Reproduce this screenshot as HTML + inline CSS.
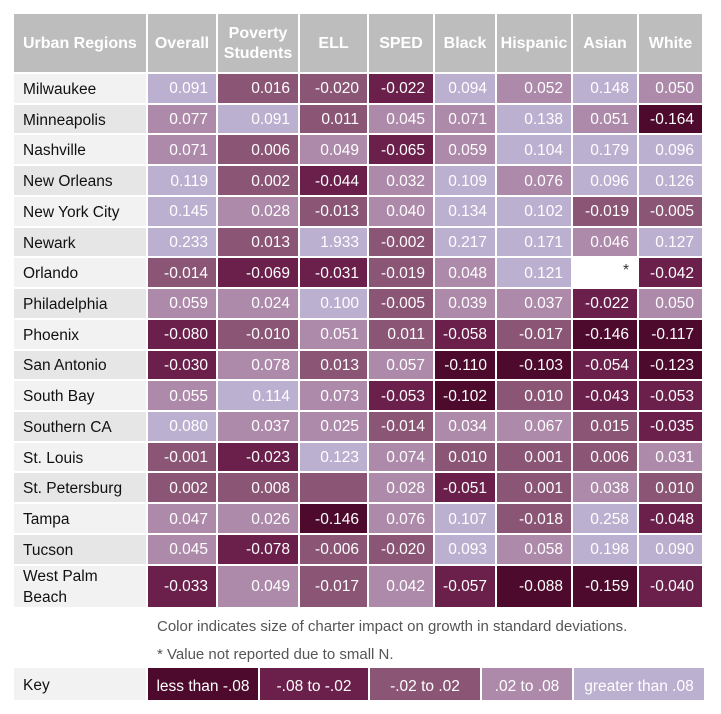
<!DOCTYPE html>
<html><head><meta charset="utf-8">
<style>
body{margin:0;background:#fff;width:721px;height:714px;position:relative;overflow:hidden;font-family:"Liberation Sans",sans-serif;}
.c{position:absolute;box-sizing:border-box;display:flex;align-items:center;font-size:15.5px;padding-top:2px;}
.h{background:#bdbdbd;color:#fff;font-weight:bold;justify-content:center;text-align:center;line-height:20px;font-size:16px;}
.v{color:#fff;justify-content:flex-end;padding-right:8px;}
.n{color:#111;padding-left:9px;line-height:21px;}
.note{position:absolute;left:157px;font-size:15px;color:#555;}
</style></head><body>
<div id="t"></div>
<div class="note" style="top:618px">Color indicates size of charter impact on growth in standard deviations.</div>
<div class="note" style="top:646px">* Value not reported due to small N.</div>
<script>
const columns=["Overall","Poverty Students","ELL","SPED","Black","Hispanic","Asian","White"];
const regions=["Milwaukee","Minneapolis","Nashville","New Orleans","New York City","Newark","Orlando","Philadelphia","Phoenix","San Antonio","South Bay","Southern CA","St. Louis","St. Petersburg","Tampa","Tucson","West Palm Beach"];
const values=[
[0.091,0.016,-0.020,-0.022,0.094,0.052,0.148,0.050],
[0.077,0.091,0.011,0.045,0.071,0.138,0.051,-0.164],
[0.071,0.006,0.049,-0.065,0.059,0.104,0.179,0.096],
[0.119,0.002,-0.044,0.032,0.109,0.076,0.096,0.126],
[0.145,0.028,-0.013,0.040,0.134,0.102,-0.019,-0.005],
[0.233,0.013,1.933,-0.002,0.217,0.171,0.046,0.127],
[-0.014,-0.069,-0.031,-0.019,0.048,0.121,"*",-0.042],
[0.059,0.024,0.100,-0.005,0.039,0.037,-0.022,0.050],
[-0.080,-0.010,0.051,0.011,-0.058,-0.017,-0.146,-0.117],
[-0.030,0.078,0.013,0.057,-0.110,-0.103,-0.054,-0.123],
[0.055,0.114,0.073,-0.053,-0.102,0.010,-0.043,-0.053],
[0.080,0.037,0.025,-0.014,0.034,0.067,0.015,-0.035],
[-0.001,-0.023,0.123,0.074,0.010,0.001,0.006,0.031],
[0.002,0.008,null,0.028,-0.051,0.001,0.038,0.010],
[0.047,0.026,-0.146,0.076,0.107,-0.018,0.258,-0.048],
[0.045,-0.078,-0.006,-0.020,0.093,0.058,0.198,0.090],
[-0.033,0.049,-0.017,0.042,-0.057,-0.088,-0.159,-0.040]];
const keyLabels=["less than -.08","-.08 to -.02","-.02 to .02",".02 to .08","greater than .08"];
const palette=["#4d0a2c","#6b1f4b","#8b5675","#ae8aaa","#bcb0d1"];
const colX=[14,148,218,300,369,435,497,573,639,704];
const t=document.getElementById('t');
function color(v){if(v===null)return palette[2];if(typeof v!=='number')return '#fff';
 if(v<-0.08)return palette[0];if(v<-0.02)return palette[1];if(v<0.02)return palette[2];if(v<0.08)return palette[3];return palette[4];}
function cell(x,y,w,h,cls,txt,bg){const d=document.createElement('div');d.className='c '+cls;
 d.style.left=x+'px';d.style.top=y+'px';d.style.width=w+'px';d.style.height=h+'px';if(bg)d.style.background=bg;d.textContent=txt;t.appendChild(d);return d;}
let d=cell(colX[0],14,colX[1]-2-colX[0],58,'h','Urban Regions');d.style.justifyContent='flex-start';d.style.paddingLeft='9px';


columns.forEach((c,j)=>{const e=cell(colX[j+1],14,colX[j+2]-2-colX[j+1],58,'h',c);
 
 });
const rowH=30.73;
regions.forEach((r,i)=>{const y=74+i*rowH;const h=(i===regions.length-1)?41:rowH-2;
 const n=cell(colX[0],y,colX[1]-2-colX[0],h,'n',r,i%2?'#e6e6e6':'#f2f2f2');
 if(i===regions.length-1)n.innerHTML='West Palm<br>Beach';
 
 
 values[i].forEach((v,j)=>{const txt=v===null?'':(typeof v==='number'?v.toFixed(3):v);
  const e=cell(colX[j+1],y,colX[j+2]-2-colX[j+1],h,'v',txt,color(v));
  if(v==='*'){e.style.color='#333';e.style.alignItems='flex-start';e.style.paddingTop='4px';}
  
  });
});
const kl=cell(colX[0],668,colX[1]-2-colX[0],32,'n','Key','#f2f2f2');


const kx=[148,260,370,482,574,706];
keyLabels.forEach((k,j)=>{const e=cell(kx[j],668,kx[j+1]-2-kx[j],32,'v',k,palette[j]);e.style.justifyContent='center';e.style.padding='6px 0 0';
 
 });
</script>
</body></html>
